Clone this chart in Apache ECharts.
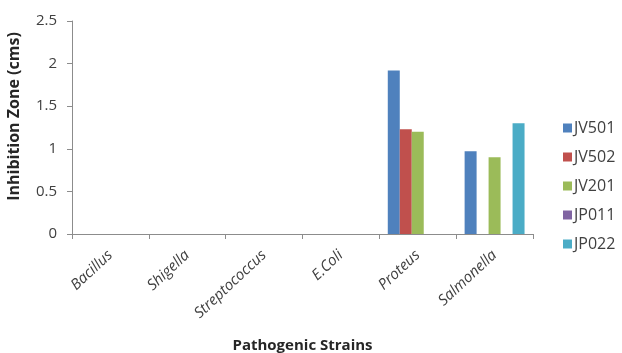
<!DOCTYPE html>
<html>
<head>
<meta charset="utf-8">
<script src="https://cdn.jsdelivr.net/npm/echarts@6/dist/echarts.min.js"></script>
<style>html,body{margin:0;padding:0;background:#fff;}#c{width:622px;height:353px;}</style>
</head>
<body>
<div id="c"></div>
<script>
const categories = ['Bacillus', 'Shigella', 'Streptococcus', 'E.Coli', 'Proteus', 'Salmonella'];
const seriesNames = ['JV501', 'JV502', 'JV201', 'JP011', 'JP022'];
const JV501 = [0, 0, 0, 0, 1.92, 0.97];
const JV502 = [0, 0, 0, 0, 1.23, 0];
const JV201 = [0, 0, 0, 0, 1.20, 0.90];
const JP011 = [0, 0, 0, 0, 0, 0];
const JP022 = [0, 0, 0, 0, 0, 1.30];
const yTicks = [0, 0.5, 1, 1.5, 2, 2.5];
const colors = ['#4F81BD', '#C0504D', '#9BBB59', '#8064A2', '#4BACC6'];

const allData = [JV501, JV502, JV201, JP011, JP022];
const font = '"Open Sans", "Noto Sans", sans-serif';
const chart = echarts.init(document.getElementById('c'));
chart.setOption({
  animation: false,
  color: colors,
  textStyle: { fontFamily: font },
  grid: { left: 72, right: 89, top: 21, bottom: 119, containLabel: false, outerBoundsMode: 'none' },
  legend: {
    orient: 'vertical', left: 558, top: 115,
    itemWidth: 9, itemHeight: 9, itemGap: 13, icon: 'rect',
    textStyle: { fontSize: 16, color: '#404040', fontFamily: font, padding: [0, 0, 0, -3] },
    data: seriesNames
  },
  xAxis: {
    type: 'category', data: categories,
    name: 'Pathogenic Strains', nameLocation: 'middle', nameGap: 104,
    nameTextStyle: { fontSize: 15, fontWeight: 'bold', color: '#262626', fontFamily: font },
    axisLine: { lineStyle: { color: '#8c8c8c' } },
    axisTick: { show: true, length: 5, lineStyle: { color: '#8c8c8c' } },
    axisLabel: { rotate: 43, fontSize: 15, fontStyle: 'italic', color: '#404040', margin: 19, interval: 0, fontFamily: font },
    splitLine: { show: false }
  },
  yAxis: {
    type: 'value', min: yTicks[0], max: yTicks[yTicks.length - 1], interval: 0.5,
    name: 'Inhibition Zone (cms)', nameLocation: 'middle', nameGap: 50,
    nameTextStyle: { fontSize: 16, fontWeight: 'bold', color: '#262626', fontFamily: font, padding: [0, 0, 0, 22] },
    axisLine: { show: true, lineStyle: { color: '#8c8c8c' } },
    axisTick: { show: true, length: 5, lineStyle: { color: '#8c8c8c' } },
    axisLabel: { fontSize: 15, color: '#404040', margin: 15, fontFamily: font },
    splitLine: { show: false }
  },
  series: seriesNames.map((n, i) => ({
    name: n, type: 'bar', data: allData[i],
    barGap: '0%', barCategoryGap: '22%'
  }))
});
</script>
</body>
</html>
